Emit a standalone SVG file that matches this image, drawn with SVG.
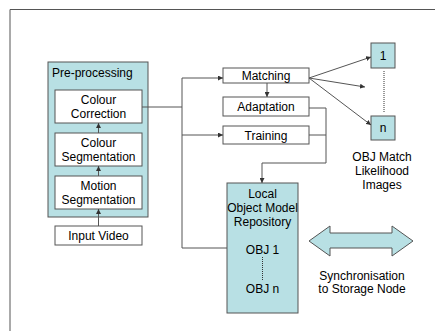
<svg xmlns="http://www.w3.org/2000/svg" width="435" height="331" viewBox="0 0 435 331">
<style>
text{font-family:"Liberation Sans",Arial,sans-serif;font-size:12px;fill:#000;text-anchor:middle}
.box{fill:#fff;stroke:#555;stroke-width:1}
.cy{fill:#b8e0e4;stroke:#555;stroke-width:1}
.ln{fill:none;stroke:#555;stroke-width:1}
.dot{fill:none;stroke:#333;stroke-width:1;stroke-dasharray:1,1}
</style>
<defs>
<marker id="ah" viewBox="0 0 6 6" refX="6" refY="3" markerWidth="5" markerHeight="5" orient="auto" markerUnits="userSpaceOnUse">
<path d="M0,0 L6,3 L0,6 z" fill="#333"/>
</marker>
</defs>
<rect width="435" height="331" fill="#fff"/>
<path class="ln" d="M10,331 V9.5 H435" stroke="#666" stroke-width="1.2"/>

<g id="preprocessing">
<rect class="cy" x="48" y="62" width="100" height="155"/>
<text x="52" y="77" style="text-anchor:start">Pre-processing</text>
</g>
<g id="colour-correction">
<rect class="box" x="55" y="90" width="87" height="33"/>
<text x="98.5" y="104">Colour</text>
<text x="98.5" y="118">Correction</text>
</g>
<g id="colour-segmentation">
<rect class="box" x="55" y="133" width="87" height="33"/>
<text x="98.5" y="147">Colour</text>
<text x="98.5" y="161">Segmentation</text>
</g>
<g id="motion-segmentation">
<rect class="box" x="55" y="176" width="87" height="33"/>
<text x="98.5" y="190">Motion</text>
<text x="98.5" y="204">Segmentation</text>
</g>
<g id="input-video">
<rect class="box" x="55" y="226" width="87" height="19"/>
<text x="98.5" y="240">Input Video</text>
</g>
<g id="matching">
<rect class="box" x="223" y="68" width="86" height="15"/>
<text x="266" y="80">Matching</text>
</g>
<g id="adaptation">
<rect class="box" x="223" y="97" width="86" height="19"/>
<text x="266" y="111">Adaptation</text>
</g>
<g id="training">
<rect class="box" x="223" y="126" width="86" height="18"/>
<text x="266" y="140">Training</text>
</g>
<g id="repository">
<rect class="cy" x="227" y="183" width="71" height="130"/>
<text x="262.5" y="198">Local</text>
<text x="262.5" y="212">Object Model</text>
<text x="262.5" y="226">Repository</text>
<text x="262.5" y="254">OBJ 1</text>
<line class="dot" x1="262.5" y1="257" x2="262.5" y2="280"/>
<text x="262.5" y="293">OBJ n</text>
</g>
<g id="obj-1">
<rect class="cy" x="371" y="43" width="24" height="25"/>
<text x="383" y="60">1</text>
</g>
<g id="obj-n">
<rect class="cy" x="371" y="116" width="24" height="24"/>
<text x="383" y="132">n</text>
</g>
<line class="dot" x1="384" y1="71" x2="384" y2="112"/>
<g id="likelihood-label">
<text x="382" y="161">OBJ Match</text>
<text x="382" y="175">Likelihood</text>
<text x="382" y="189">Images</text>
</g>
<g id="sync">
<polygon class="cy" points="309,241 330,226 330,233 392,233 392,226 413,241 392,256 392,248 330,248 330,256"/>
<text x="362" y="280">Synchronisation</text>
<text x="362" y="293">to Storage Node</text>
</g>

<g id="connectors">
<line class="ln" x1="98.5" y1="226" x2="98.5" y2="209" marker-end="url(#ah)"/>
<line class="ln" x1="98.5" y1="176" x2="98.5" y2="166" marker-end="url(#ah)"/>
<line class="ln" x1="98.5" y1="133" x2="98.5" y2="123" marker-end="url(#ah)"/>
<path class="ln" d="M142,107 H182"/>
<path class="ln" d="M182,78 V248 H227"/>
<line class="ln" x1="182" y1="78" x2="223" y2="78" marker-end="url(#ah)"/>
<line class="ln" x1="182" y1="135" x2="223" y2="135" marker-end="url(#ah)"/>
<line class="ln" x1="267" y1="83" x2="267" y2="97" marker-end="url(#ah)"/>
<path class="ln" d="M309,108 H326 V163 H262"/>
<path class="ln" d="M309,135 H326"/>
<line class="ln" x1="262" y1="163" x2="262" y2="183" marker-end="url(#ah)"/>
<line class="ln" x1="309" y1="78" x2="371" y2="57" marker-end="url(#ah)"/>
<line class="ln" x1="309" y1="78" x2="365" y2="87" marker-end="url(#ah)"/>
<line class="ln" x1="309" y1="78" x2="371" y2="125" marker-end="url(#ah)"/>
</g>
</svg>
